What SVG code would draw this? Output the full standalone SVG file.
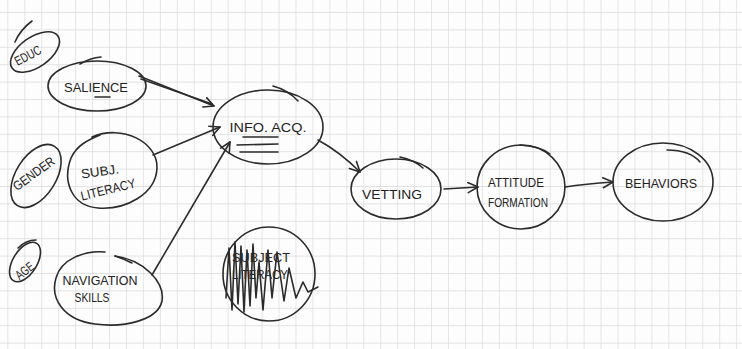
<svg xmlns="http://www.w3.org/2000/svg" width="742" height="349" viewBox="0 0 742 349">
<defs>
<pattern id="grid" x="7.3" y="12" width="16.95" height="17.4" patternUnits="userSpaceOnUse">
<path d="M0,0 V17.4 M0,0 H16.95" fill="none" stroke="#d9d9d9" stroke-width="1.3"/>
</pattern>
<marker id="arr" viewBox="0 0 12 12" refX="11" refY="6" markerWidth="12" markerHeight="12" markerUnits="userSpaceOnUse" orient="auto">
<path d="M1,1 L11,6 L1,11" fill="none" stroke="#2b2b2b" stroke-width="1.6" stroke-linecap="round" stroke-linejoin="round"/>
</marker>
<style>
.s{fill:none;stroke:#2b2b2b;stroke-width:1.6;stroke-linecap:round;stroke-linejoin:round}
.t{font-family:"Liberation Sans","DejaVu Sans",sans-serif;fill:#222;font-size:13px;text-anchor:middle}
</style>
</defs>
<rect width="742" height="349" fill="#fdfdfd"/>
<rect width="742" height="349" fill="url(#grid)"/>

<g id="connectors">
<path class="s" d="M139,76 L214,106" marker-end="url(#arr)"/>
<path class="s" d="M141,79 L212,104"/>
<path class="s" d="M153,155 L220,127" marker-end="url(#arr)"/>
<path class="s" d="M152,275 L230,142" marker-end="url(#arr)"/>
<path class="s" d="M318,140 Q340,152 360,172" marker-end="url(#arr)"/>
<path class="s" d="M444,189 L478,187" marker-end="url(#arr)"/>
<path class="s" d="M565,187 Q585,184 613,182" marker-end="url(#arr)"/>
</g>

<g id="educ">
<ellipse class="s" cx="35" cy="52" rx="28" ry="15" transform="rotate(-35 35 52)"/>
<path class="s" d="M15,42 Q20,30 32,21"/>
<text class="t" x="28" y="60" font-size="11" textLength="28" lengthAdjust="spacingAndGlyphs" transform="rotate(-28 28 56)">EDUC</text>
</g>

<g id="salience">
<ellipse class="s" cx="97" cy="86" rx="49" ry="25"/>
<path class="s" d="M80,64 Q90,58 101,57"/>
<text class="t" x="96" y="92" font-size="15" textLength="64" lengthAdjust="spacingAndGlyphs">SALIENCE</text>
<path class="s" d="M95,97 L110,97"/>
</g>

<g id="gender">
<ellipse class="s" cx="36" cy="176" rx="35" ry="20" transform="rotate(-58 36 176)"/>
<text class="t" x="34" y="178" font-size="12" textLength="48" lengthAdjust="spacingAndGlyphs" transform="rotate(-36 34 174)">GENDER</text>
</g>

<g id="subj-literacy">
<path class="s" d="M92,137 C122,124 158,142 157,168 C156,194 126,210 98,208 C72,206 62,182 71,158 C77,145 88,140 100,135"/>
<text class="t" x="100" y="176" font-size="13" textLength="38" lengthAdjust="spacingAndGlyphs" transform="rotate(-8 100 172)">SUBJ.</text>
<text class="t" x="108" y="194" font-size="13" textLength="56" lengthAdjust="spacingAndGlyphs" transform="rotate(-14 108 189)">LITERACY</text>
</g>

<g id="age">
<ellipse class="s" cx="25" cy="262" rx="22" ry="12" transform="rotate(-58 25 262)"/>
<path class="s" d="M18,248 Q26,240 36,240"/>
<text class="t" x="25" y="275" font-size="10" textLength="20" lengthAdjust="spacingAndGlyphs" transform="rotate(-38 25 271)">AGE</text>
</g>

<g id="navigation-skills">
<path class="s" d="M115,256 C145,260 165,283 162,301 C158,320 125,328 95,324 C63,320 50,298 56,278 C61,259 85,250 105,252"/>
<path class="s" d="M115,256 Q124,259 132,263"/>
<text class="t" x="100" y="285" font-size="13" textLength="75" lengthAdjust="spacingAndGlyphs">NAVIGATION</text>
<text class="t" x="92" y="302" font-size="13" textLength="35" lengthAdjust="spacingAndGlyphs">SKILLS</text>
</g>

<g id="info-acq">
<ellipse class="s" cx="268" cy="127" rx="55" ry="37"/>
<path class="s" d="M273,86 Q288,90 298,101"/>
<text class="t" x="268" y="132" font-size="15" textLength="77" lengthAdjust="spacingAndGlyphs">INFO. ACQ.</text>
<path class="s" d="M243,137 L278,137 M237,145 L278,144 M240,152 L278,152"/>
</g>

<g id="subject-literacy">
<ellipse class="s" cx="269" cy="274" rx="46" ry="47"/>
<text class="t" x="261" y="262" font-size="12" textLength="58" lengthAdjust="spacingAndGlyphs">SUBJECT</text>
<text class="t" x="260" y="279" font-size="12" textLength="56" lengthAdjust="spacingAndGlyphs">LITERACY</text>
<path class="s" stroke-width="1.3" d="M226,298 L229,248 L232,310 L235,242 L238,304 L241,246 L244,312 L247,250 L250,306 L253,244 L256,298 L259,262 L263,310 L268,250 L272,298 L277,252 L284,301 L289,268 L296,298 L303,282 L308,292 L318,287"/>
</g>

<g id="vetting">
<ellipse class="s" cx="396" cy="189" rx="45" ry="30"/>
<path class="s" d="M400,157 Q414,160 423,168"/>
<text class="t" x="392" y="199" font-size="14" textLength="60" lengthAdjust="spacingAndGlyphs">VETTING</text>
</g>

<g id="attitude-formation">
<ellipse class="s" cx="521" cy="187" rx="44" ry="42"/>
<path class="s" d="M520,145 Q540,146 550,154"/>
<text class="t" x="516" y="187" font-size="14" textLength="56" lengthAdjust="spacingAndGlyphs">ATTITUDE</text>
<text class="t" x="518" y="207" font-size="13" textLength="60" lengthAdjust="spacingAndGlyphs">FORMATION</text>
</g>

<g id="behaviors">
<ellipse class="s" cx="663" cy="182" rx="50" ry="39"/>
<path class="s" d="M667,150 Q690,150 700,162"/>
<text class="t" x="661" y="188" font-size="17" textLength="72" lengthAdjust="spacingAndGlyphs">BEHAVIORS</text>
</g>
</svg>
